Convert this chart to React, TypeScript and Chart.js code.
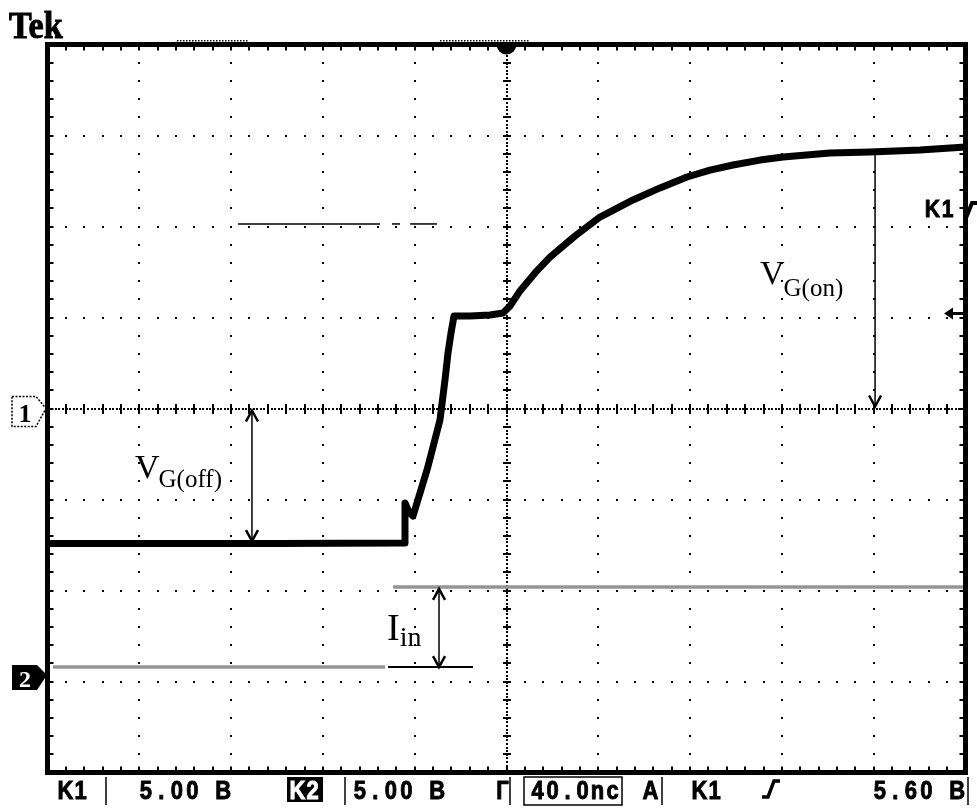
import React, { useEffect, useRef } from 'react';
import { Chart, registerables } from 'chart.js';

Chart.register(...registerables);

// ---- Data (time in ns, 40 ns/div; CH1 volts, 5 V/div; CH2 volts, 5 V/div) ----
const timeTicks = [-200, -160, -120, -80, -40, 0, 40, 80, 120, 160, 200];
const voltTicks = [-20, -15, -10, -5, 0, 5, 10, 15, 20];

const ch1Time = [-200, -100, -44.66, -44.23, -42.48, -40.74, -37.69, -34.64, -32.03, -28.98, -26.8, -25.49, -24.18, -22.88, -15.9, -7.19, -1.52, 1.53, 5.88, 12.42, 18.95, 29.85, 40.74, 55.12, 66.88, 78.65, 88.67, 98.69, 110.46, 120.48, 140.96, 158.39, 180.17, 200];
const ch1Volts = [-7.42, -7.42, -7.39, -5.19, -5.69, -5.91, -4.64, -3.38, -2.12, -0.63, 1.57, 3.05, 4.15, 5.08, 5.08, 5.14, 5.25, 5.63, 6.46, 7.45, 8.32, 9.48, 10.52, 11.46, 12.12, 12.72, 13.1, 13.38, 13.65, 13.82, 14.04, 14.09, 14.2, 14.37];

const ch2Time = [-197.6, -52.9, -51.0, -49.4, 200];
const ch2Volts = [0.55, 0.55, null, 4.95, 4.95];

// annotation values
const vgOffArrow = { t: -110.9, from: 0, to: -7.4 };
const vgOnArrow = { t: 160.6, from: 14.07, to: 0 };
const iinArrow = { t: -29.4, from: 4.95, to: 0.55 };
const iinBase = { from: -51.6, to: -14.6, v: 0.55 };
const refLineV = 10.14;
const refLineSegments = [[-117.0, -55.1], [-49.9, -46.4], [-42.0, -30.3]];
const triggerLevel = 5.22;
const ch2Ground = 0;

const statusTexts = ['K1', '5.00 B', 'K2', '5.00 B', 'Г', '40.0nc', 'A', 'K1', '5.60 B'];

const SERIF = '"Liberation Serif", "Times New Roman", serif';
const SANS = '"Liberation Sans", Arial, sans-serif';

function drawCells(ctx: CanvasRenderingContext2D, text: string, x: number, y: number, cell: number, color = '#000', sx = 0.88) {
  ctx.fillStyle = color;
  ctx.strokeStyle = color;
  ctx.lineWidth = 0.9;
  ctx.textAlign = 'center';
  ctx.textBaseline = 'alphabetic';
  for (let i = 0; i < text.length; i++) {
    ctx.save();
    ctx.translate(x + cell * i + cell / 2, y);
    ctx.scale(sx, 1);
    ctx.fillText(text[i], 0, 0);
    ctx.strokeText(text[i], 0, 0);
    ctx.restore();
  }
}

function arrowHead(ctx: CanvasRenderingContext2D, x: number, y: number, dir: number) {
  ctx.beginPath();
  ctx.moveTo(x - 6, y - dir * 11);
  ctx.lineTo(x, y);
  ctx.lineTo(x + 6, y - dir * 11);
  ctx.stroke();
}

const scopePlugin = {
  id: 'scope',
  beforeDraw(chart: any) {
    const { ctx, width, height } = chart;
    ctx.save();
    ctx.fillStyle = '#fff';
    ctx.fillRect(0, 0, width, height);
    ctx.restore();
  },
  beforeDatasetsDraw(chart: any) {
    const { ctx, chartArea: a, scales } = chart;
    const xs = scales.x;
    const ys = scales.y;
    const dx = (a.right - a.left) / 50;
    const dy = (a.bottom - a.top) / 40;
    ctx.save();
    ctx.fillStyle = '#000';
    timeTicks.forEach((t, i) => {
      if (i === 0 || i === timeTicks.length - 1 || t === 0) return;
      const x = xs.getPixelForValue(t);
      for (let j = 1; j < 40; j++) ctx.fillRect(Math.round(x - 1), Math.round(a.top + j * dy - 1), 2, 2);
    });
    voltTicks.forEach((v, i) => {
      if (i === 0 || i === voltTicks.length - 1 || v === 0) return;
      const y = ys.getPixelForValue(v);
      for (let j = 1; j < 50; j++) ctx.fillRect(Math.round(a.left + j * dx - 1), Math.round(y - 1), 2, 2);
    });
    const cx = xs.getPixelForValue(0);
    const cy = ys.getPixelForValue(0);
    for (let p = a.left; p < a.right; p += 3.6) ctx.fillRect(Math.round(p), Math.round(cy - 1), 2, 2);
    for (let p = a.top; p < a.bottom; p += 3.6) ctx.fillRect(Math.round(cx - 1), Math.round(p), 2, 2);
    for (let j = 1; j < 50; j++) ctx.fillRect(Math.round(a.left + j * dx - 1), Math.round(cy - 5), 2, 10);
    for (let j = 1; j < 40; j++) ctx.fillRect(Math.round(cx - 4), Math.round(a.top + j * dy - 1), 8, 2);
    for (let j = 1; j < 50; j++) {
      const x = Math.round(a.left + j * dx - 1);
      ctx.fillRect(x, a.top, 2, 6);
      ctx.fillRect(x, a.bottom - 6, 2, 6);
    }
    for (let j = 1; j < 40; j++) {
      const y = Math.round(a.top + j * dy - 1);
      ctx.fillRect(a.left, y, 6, 2);
      ctx.fillRect(a.right - 6, y, 6, 2);
    }
    ctx.restore();
  },
  afterDatasetsDraw(chart: any) {
    const { ctx, scales } = chart;
    const xs = scales.x;
    const ys = scales.y;
    const y2 = scales.y2;
    ctx.save();
    ctx.strokeStyle = '#000';
    ctx.fillStyle = '#000';

    ctx.lineWidth = 1.5;
    const ry = ys.getPixelForValue(refLineV);
    refLineSegments.forEach(([t0, t1]) => {
      ctx.beginPath();
      ctx.moveTo(xs.getPixelForValue(t0), ry);
      ctx.lineTo(xs.getPixelForValue(t1), ry);
      ctx.stroke();
    });

    {
      const x = xs.getPixelForValue(vgOffArrow.t);
      const y0 = ys.getPixelForValue(vgOffArrow.from);
      const y1 = ys.getPixelForValue(vgOffArrow.to);
      ctx.lineWidth = 1.5;
      ctx.beginPath(); ctx.moveTo(x, y0 + 2); ctx.lineTo(x, y1 - 2); ctx.stroke();
      ctx.lineWidth = 2.5;
      arrowHead(ctx, x, y0 + 2, -1);
      arrowHead(ctx, x, y1 - 2, 1);
    }
    {
      const x = xs.getPixelForValue(vgOnArrow.t);
      const y0 = ys.getPixelForValue(vgOnArrow.from);
      const y1 = ys.getPixelForValue(vgOnArrow.to);
      ctx.lineWidth = 1.5;
      ctx.beginPath(); ctx.moveTo(x, y0); ctx.lineTo(x, y1 - 2); ctx.stroke();
      ctx.lineWidth = 2.5;
      arrowHead(ctx, x, y1 - 2, 1);
    }
    {
      const x = xs.getPixelForValue(iinArrow.t);
      const y0 = y2.getPixelForValue(iinArrow.from);
      const y1 = y2.getPixelForValue(iinArrow.to);
      ctx.lineWidth = 1.5;
      ctx.beginPath(); ctx.moveTo(x, y0 + 2); ctx.lineTo(x, y1); ctx.stroke();
      ctx.lineWidth = 2.5;
      arrowHead(ctx, x, y0 + 2, -1);
      arrowHead(ctx, x, y1, 1);
      const by = y2.getPixelForValue(iinBase.v);
      ctx.lineWidth = 2;
      ctx.beginPath();
      ctx.moveTo(xs.getPixelForValue(iinBase.from), by);
      ctx.lineTo(xs.getPixelForValue(iinBase.to), by);
      ctx.stroke();
    }

    ctx.textAlign = 'left';
    ctx.textBaseline = 'alphabetic';
    ctx.font = `34px ${SERIF}`;
    ctx.fillText('V', 135, 478);
    let w = ctx.measureText('V').width;
    ctx.font = `25px ${SERIF}`;
    ctx.fillText('G(off)', 135 + w - 1, 487);

    ctx.font = `34px ${SERIF}`;
    ctx.fillText('V', 760, 284);
    w = ctx.measureText('V').width;
    ctx.font = `25px ${SERIF}`;
    ctx.fillText('G(on)', 760 + w - 1, 296);

    ctx.font = `38px ${SERIF}`;
    ctx.fillText('I', 387, 640);
    w = ctx.measureText('I').width;
    ctx.font = `28px ${SERIF}`;
    ctx.fillText('in', 387 + w, 646);
    ctx.restore();
  },
  afterDraw(chart: any) {
    const { ctx, chartArea: a, scales } = chart;
    const xs = scales.x;
    const ys = scales.y;
    const y2 = scales.y2;
    ctx.save();
    ctx.strokeStyle = '#000';
    ctx.lineWidth = 5;
    ctx.strokeRect(a.left, a.top, a.right - a.left, a.bottom - a.top);

    ctx.fillStyle = '#000';
    for (let x = 177; x < 248; x += 3) ctx.fillRect(x, 40, 1.5, 1.5);
    for (let x = 440; x < 528; x += 3) ctx.fillRect(x, 40, 1.5, 1.5);

    const cx = xs.getPixelForValue(0);
    ctx.beginPath();
    ctx.arc(cx, a.top, 10, 0, Math.PI);
    ctx.fill();

    ctx.font = `bold 37px ${SERIF}`;
    ctx.textAlign = 'left';
    ctx.textBaseline = 'alphabetic';
    ctx.save();
    ctx.translate(9, 38);
    ctx.scale(0.92, 1);
    ctx.fillText('Tek', 0, 0);
    ctx.lineWidth = 1;
    ctx.strokeText('Tek', 0, 0);
    ctx.restore();

    {
      const ty = ys.getPixelForValue(0);
      ctx.lineWidth = 1.5;
      ctx.setLineDash([2, 1.5]);
      ctx.beginPath();
      ctx.moveTo(12, ty - 12);
      ctx.lineTo(36, ty - 12);
      ctx.lineTo(46, ty);
      ctx.lineTo(36, ty + 18);
      ctx.lineTo(12, ty + 18);
      ctx.closePath();
      ctx.stroke();
      ctx.setLineDash([]);
      ctx.font = `bold 26px ${SERIF}`;
      ctx.textAlign = 'center';
      ctx.fillText('1', 25, ty + 13);
    }
    {
      const ty = y2.getPixelForValue(ch2Ground);
      ctx.beginPath();
      ctx.moveTo(12, ty - 12);
      ctx.lineTo(37, ty - 12);
      ctx.lineTo(47, ty - 2);
      ctx.lineTo(37, ty + 13);
      ctx.lineTo(12, ty + 13);
      ctx.closePath();
      ctx.fill();
      ctx.fillStyle = '#fff';
      ctx.font = `bold 24px ${SERIF}`;
      ctx.textAlign = 'center';
      ctx.fillText('2', 25, ty + 10);
      ctx.fillStyle = '#000';
    }

    {
      const ty = ys.getPixelForValue(triggerLevel);
      ctx.beginPath();
      ctx.moveTo(944, ty);
      ctx.lineTo(953, ty - 6);
      ctx.lineTo(953, ty + 6);
      ctx.closePath();
      ctx.fill();
      ctx.lineWidth = 3;
      ctx.beginPath(); ctx.moveTo(950, ty); ctx.lineTo(964, ty); ctx.stroke();
    }
    ctx.font = `bold 24px ${SANS}`;
    drawCells(ctx, 'K1', 925, 217, 15);
    ctx.strokeStyle = '#000';
    ctx.lineWidth = 4;
    ctx.beginPath();
    ctx.moveTo(966, 218); ctx.lineTo(972, 203); ctx.lineTo(977, 203);
    ctx.stroke();

    // status bar
    const by = 799;
    ctx.font = `bold 25px ${SANS}`;
    drawCells(ctx, statusTexts[0], 58, by, 15);
    drawCells(ctx, statusTexts[1], 138, by, 15.5);
    ctx.fillStyle = '#000';
    ctx.fillRect(287, 777, 36, 25);
    drawCells(ctx, statusTexts[2], 290, by, 15, '#fff');
    drawCells(ctx, statusTexts[3], 352, by, 15.5);
    drawCells(ctx, statusTexts[4], 495, by, 15);
    drawCells(ctx, statusTexts[5], 530, by, 15);
    drawCells(ctx, statusTexts[6], 643, by, 15);
    drawCells(ctx, statusTexts[7], 692, by, 15);
    drawCells(ctx, statusTexts[8], 872, by, 15.5);
    ctx.strokeStyle = '#000';
    ctx.lineWidth = 3.5;
    ctx.beginPath();
    ctx.moveTo(762, 797); ctx.lineTo(768, 797); ctx.lineTo(774, 781); ctx.lineTo(780, 781);
    ctx.stroke();
    ctx.lineWidth = 1.5;
    const seps = [106, 345, 510, 662, 968];
    seps.forEach((x) => {
      ctx.beginPath(); ctx.moveTo(x, 777); ctx.lineTo(x, 805); ctx.stroke();
    });
    ctx.strokeRect(524, 777, 98, 28);
    ctx.restore();
  },
};

export default function App() {
  const ref = useRef<HTMLCanvasElement | null>(null);
  useEffect(() => {
    if (!ref.current) return;
    const chart = new Chart(ref.current, {
      type: 'line',
      data: {
        datasets: [
          {
            label: 'CH1',
            data: ch1Time.map((t, i) => ({ x: t, y: ch1Volts[i] })),
            borderColor: '#000',
            borderWidth: 7,
            pointRadius: 0,
            tension: 0,
            yAxisID: 'y',
            borderJoinStyle: 'round',
          },
          {
            label: 'CH2',
            data: ch2Time.map((t, i) => ({ x: t, y: ch2Volts[i] })),
            borderColor: '#959595',
            borderWidth: 3.5,
            pointRadius: 0,
            spanGaps: false,
            yAxisID: 'y2',
          },
        ],
      },
      options: {
        responsive: false,
        animation: false,
        events: [],
        layout: { padding: { left: 47.5, top: 44.5, right: 11.5, bottom: 36.5 } },
        scales: {
          x: { type: 'linear', min: -200, max: 200, display: false },
          y: { type: 'linear', min: -20, max: 20, display: false },
          y2: { type: 'linear', min: -5.245, max: 34.755, display: false },
        },
        plugins: { legend: { display: false }, tooltip: { enabled: false } },
      },
      plugins: [scopePlugin],
    } as any);
    return () => chart.destroy();
  }, []);
  return (
    <div style={{ position: 'fixed', left: 0, top: 0, width: 977, height: 809, background: '#fff' }}>
      <canvas ref={ref} width={977} height={809} style={{ width: 977, height: 809, display: 'block' }} />
    </div>
  );
}
